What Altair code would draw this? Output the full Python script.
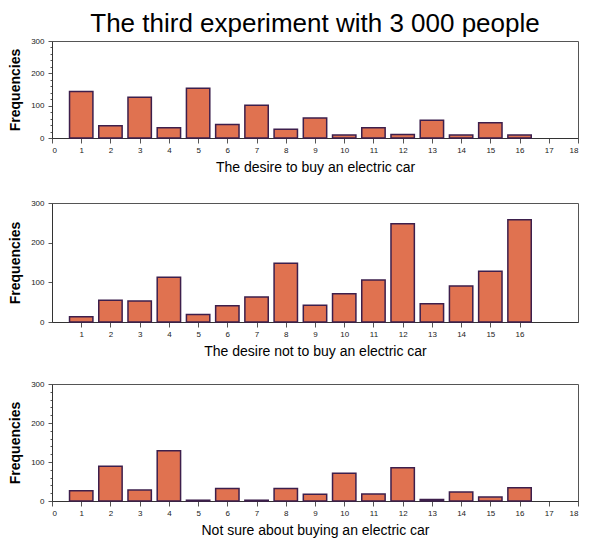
import altair as alt
import pandas as pd

categories = list(range(1, 17))
buy = [144, 38, 126, 32, 154, 42, 101, 27, 62, 9, 32, 11, 55, 9, 47, 9]
not_buy = [13, 55, 53, 113, 19, 41, 63, 148, 42, 71, 106, 248, 46, 91, 128, 258]
not_sure = [26, 89, 28, 129, 2, 32, 2, 32, 17, 71, 18, 85, 4, 23, 10, 34]

x_ticks_full = list(range(0, 19))
x_ticks_mid = list(range(1, 17))
y_major = [0, 100, 200, 300]
y_minor = list(range(0, 301, 20))

FILL = "#E07250"
STROKE = "#3d1f4c"
FONT = "Liberation Sans"


def panel(values, xtitle, xticks, minor, height, title=None):
    df = pd.DataFrame({"cat": categories, "val": values})
    df["lo"] = df["cat"] - 0.4
    df["hi"] = df["cat"] + 0.4
    if minor:
        yaxis = alt.Axis(
            values=y_minor,
            labelExpr="datum.value % 100 === 0 ? datum.label : ''",
            tickSize={"condition": {"test": "datum.value % 100 === 0", "value": 4}, "value": 2},
            title="Frequencies",
        )
    else:
        yaxis = alt.Axis(values=y_major, tickSize=4, title="Frequencies")
    props = dict(width=526, height=height)
    if title is not None:
        props["title"] = title
    return (
        alt.Chart(df)
        .mark_bar(fill=FILL, stroke=STROKE, strokeWidth=1.5)
        .encode(
            x=alt.X("lo:Q", scale=alt.Scale(domain=[0, 18], nice=False, zero=False),
                    axis=alt.Axis(values=xticks, title=xtitle, format="d")),
            x2="hi:Q",
            y=alt.Y("val:Q", scale=alt.Scale(domain=[0, 300], nice=False), axis=yaxis),
            y2=alt.datum(0),
        )
        .properties(**props)
    )


main_title = alt.Title("The third experiment with 3 000 people", fontSize=26,
                       font=FONT, fontWeight="normal", color="#000", anchor="middle",
                       offset=0)

p1 = panel(buy, "The desire to buy an electric car", x_ticks_full, True, 97, main_title)
p2 = panel(not_buy, "The desire not to buy an electric car", x_ticks_mid, False, 119)
p3 = panel(not_sure, "Not sure about buying an electric car", x_ticks_full, True, 117)

chart = (
    alt.vconcat(alt.vconcat(p1, p2, spacing=23), p3, spacing=20)
    .properties(
        padding={"left": 0, "top": 2, "right": 0, "bottom": 0},
    )
    .configure_view(stroke="#555", strokeWidth=1)
    .configure_axis(
        labelFont=FONT, labelFontSize=8, labelColor="#222",
        titleFont=FONT, titleFontSize=14, titleColor="#000", titleFontWeight="normal",
        domainColor="#333", tickColor="#555", grid=False, labelPadding=3,
    )
    .configure_axisY(titleFontWeight="bold", titlePadding=8, labelPadding=4)
    .configure_axisX(titlePadding=6)
)

chart.save("out.html", embed_options={"renderer": "svg", "actions": False})
